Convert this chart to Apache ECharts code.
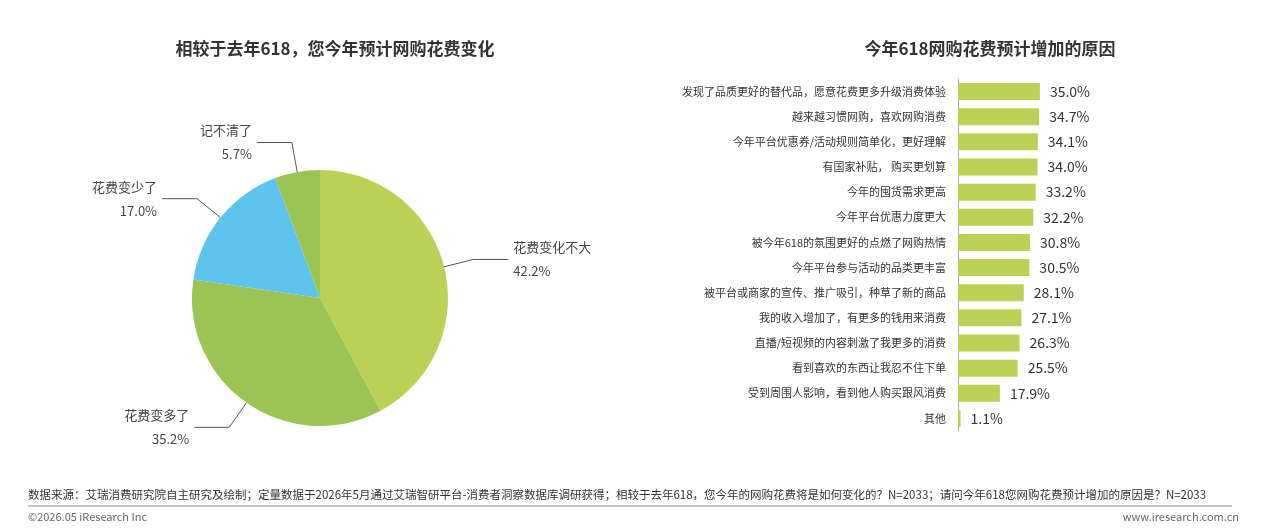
<!DOCTYPE html><html><head><meta charset="utf-8"><script src="https://cdn.jsdelivr.net/npm/echarts@6/dist/echarts.min.js"></script>
<style>body{margin:0}#c{width:1269px;height:530px}</style></head><body><div id="c"></div><script>
const pieNames=['花费变化不大','花费变多了','花费变少了','记不清了'];
const pieValues=[42.2,35.2,17.0,5.7];
const pieColors=['#BBD155','#9AC454','#5EC4EE','#9AC454'];
const barCats=['发现了品质更好的替代品，愿意花费更多升级消费体验','越来越习惯网购，喜欢网购消费','今年平台优惠券/活动规则简单化，更好理解','有国家补贴， 购买更划算','今年的囤货需求更高','今年平台优惠力度更大','被今年618的氛围更好的点燃了网购热情','今年平台参与活动的品类更丰富','被平台或商家的宣传、推广吸引，种草了新的商品','我的收入增加了，有更多的钱用来消费','直播/短视频的内容刺激了我更多的消费','看到喜欢的东西让我忍不住下单','受到周围人影响，看到他人购买跟风消费','其他'];
const barValues=[35.0,34.7,34.1,34.0,33.2,32.2,30.8,30.5,28.1,27.1,26.3,25.5,17.9,1.1];
const F='"Noto Sans CJK SC","Noto Sans",sans-serif';
const ch=echarts.init(document.getElementById('c'));
ch.setOption({
 textStyle:{fontFamily:F},
 title:[{text:'相较于去年618，您今年预计网购花费变化',left:330,top:35,textAlign:'center',textStyle:{fontSize:17,fontWeight:'bold',color:'#333',fontFamily:F}},
  {text:'今年618网购花费预计增加的原因',left:985,top:35,textAlign:'center',textStyle:{fontSize:17,fontWeight:'bold',color:'#333',fontFamily:F}}],
 grid:{left:958,width:117,top:79,height:352},
 xAxis:{type:'value',min:0,max:50,show:false},
 yAxis:{type:'category',inverse:true,data:barCats,axisTick:{show:false},axisLine:{lineStyle:{color:'#aaa'}},axisLabel:{fontSize:11,color:'#333',margin:12}},
 series:[{type:'pie',center:[320,298],radius:128,startAngle:90,clockwise:true,
   data:pieNames.map((n,i)=>({name:n,value:pieValues[i],itemStyle:{color:pieColors[i]}})),
   label:{formatter:p=>p.name+'\n'+p.value.toFixed(1)+'%',fontSize:13,color:'#444',lineHeight:24,align:'center'},
   labelLine:{length:30,length2:35,lineStyle:{color:'#555'}},itemStyle:{borderWidth:0}},
  {type:'bar',data:barValues,barWidth:17,itemStyle:{color:'#BBD155'},label:{show:true,position:'right',distance:10,formatter:p=>p.value.toFixed(1)+'%',fontSize:14,color:'#333'}}],
 graphic:[{type:'text',left:28,top:489,style:{text:'数据来源：艾瑞消费研究院自主研究及绘制；定量数据于2026年5月通过艾瑞智研平台-消费者洞察数据库调研获得；相较于去年618，您今年的网购花费将是如何变化的？N=2033；请问今年618您网购花费预计增加的原因是？N=2033',fontSize:11.5,fill:'#333',fontFamily:F}},
  {type:'line',shape:{x1:28,y1:506,x2:1232,y2:506},style:{stroke:'#888',lineWidth:1}},
  {type:'text',left:28,top:511,style:{text:'©2026.05 iResearch Inc',fontSize:11,fill:'#666',fontFamily:F}},
  {type:'text',right:30,top:511,style:{text:'www.iresearch.com.cn',fontSize:11,fill:'#666',fontFamily:F}}]
});
</script></body></html>
